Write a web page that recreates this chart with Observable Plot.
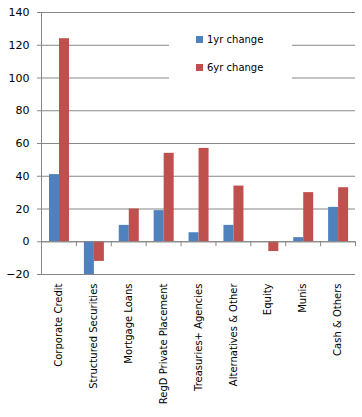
<!DOCTYPE html>
<html>
<head>
<meta charset="utf-8">
<script src="https://cdn.jsdelivr.net/npm/d3@7"></script>
<script src="https://cdn.jsdelivr.net/npm/@observablehq/plot@0.6"></script>
<style>
  html, body { margin: 0; padding: 0; background: #fff; }
  #wrap { position: relative; width: 362px; height: 417px; overflow: hidden; }
  #legend { position: absolute; left: 169px; top: 22px; width: 123px; height: 76px; background: #fff;
    font-family: "DejaVu Sans", sans-serif; font-size: 10px; color: #000; }
  .item { position: absolute; left: 27px; display: flex; align-items: center; }
  .sw { width: 7px; height: 7px; margin-right: 4px; }
</style>
</head>
<body>
<div id="wrap"><div id="legend"></div></div>
<script>
const categories = ["Corporate Credit", "Structured Securities", "Mortgage Loans", "RegD Private Placement",
  "Treasuries+ Agencies", "Alternatives & Other", "Equity", "Munis", "Cash & Others"];
const series = ["1yr change", "6yr change"];
const oneYear = [41, -20, 10, 19, 5.5, 10, 0, 2.5, 21];
const sixYear = [124, -12, 20, 54, 57, 34, -6, 30, 33];
const yTicks = [-20, 0, 20, 40, 60, 80, 100, 120, 140];
const colors = ["#4F81BD", "#C0504D"];

const W = 362, H = 417, ML = 41, MR = 7, MT = 12, MB = 143;
const bw = (W - ML - MR) / categories.length;
const grid = "#868686";

const d1 = categories.map((c, i) => ({cat: c, v: oneYear[i]}));
const d6 = categories.map((c, i) => ({cat: c, v: sixYear[i]}));

const chart = Plot.plot({
  width: W, height: H,
  marginLeft: ML, marginRight: MR, marginTop: MT, marginBottom: MB,
  style: {fontFamily: "DejaVu Sans, sans-serif", fontSize: "10px", color: "#000", background: "#fff"},
  x: {type: "band", domain: categories, padding: 0, round: false, label: null},
  y: {domain: [-20, 140], label: null},
  marks: [
    Plot.gridY(yTicks, {stroke: grid, strokeOpacity: 1}),
    Plot.barY(d1, {x: "cat", y: "v", fill: colors[0], insetLeft: 8, insetRight: bw - 18}),
    Plot.barY(d6, {x: "cat", y: "v", fill: colors[1], insetLeft: 18, insetRight: bw - 28}),
    Plot.ruleY([0], {stroke: grid}),
    Plot.ruleX([categories[0]], {y1: -20, y2: 140, stroke: grid, dx: -bw / 2}),
    Plot.ruleX(categories, {y1: 0, y2: -3, stroke: grid, dx: -bw / 2}),
    Plot.ruleX([categories[categories.length - 1]], {y1: 0, y2: -3, stroke: grid, dx: bw / 2}),
    Plot.axisY(yTicks, {tickSize: 4, tickPadding: 8, stroke: grid, fill: "#000", fontSize: 11}),
    Plot.axisX({tickRotate: -90, tickSize: 0, tickPadding: 9, fill: "#000", fontSize: 10})
  ]
});
document.getElementById("wrap").prepend(chart);

const legend = document.getElementById("legend");
series.forEach((s, i) => {
  const it = document.createElement("div");
  it.className = "item";
  it.style.top = (12 + i * 28) + "px";
  it.innerHTML = `<div class="sw" style="background:${colors[i]}"></div><span>${s}</span>`;
  legend.appendChild(it);
});
</script>
</body>
</html>
